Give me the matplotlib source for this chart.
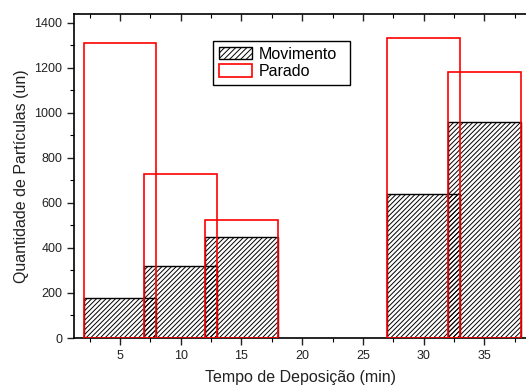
import matplotlib
matplotlib.use('Agg')
import matplotlib.pyplot as plt
from matplotlib.patches import Patch
from matplotlib.ticker import MultipleLocator

# data
tempo = [5, 10, 15, 30, 35]
movimento = [176, 318, 448, 639, 959]
parado = [1308, 730, 522, 1333, 1180]
largura = 6

plt.rcParams['font.family'] = ['Liberation Sans', 'DejaVu Sans']
plt.rcParams['hatch.linewidth'] = 0.7

fig = plt.figure(figsize=(5.26, 3.87), dpi=100)
ax = fig.add_axes([0.1407, 0.1266, 0.8593, 0.8372])

# hatched bars (movimento) without fill so overlaps show double hatch
ax.bar(tempo, movimento, width=largura, facecolor='none', edgecolor='black',
       hatch='///////', linewidth=1.0, zorder=2)
# red outline bars (parado)
ax.bar(tempo, parado, width=largura, facecolor='none', edgecolor='red',
       linewidth=1.2, zorder=3)

ax.set_xlim(1.21, 38.43)
ax.set_ylim(0, 1438)

ax.xaxis.set_major_locator(MultipleLocator(5))
ax.xaxis.set_minor_locator(MultipleLocator(2.5))
ax.yaxis.set_major_locator(MultipleLocator(200))
ax.yaxis.set_minor_locator(MultipleLocator(100))

ax.tick_params(axis='both', which='major', labelsize=9, length=5, width=1,
               colors='#222222')
ax.tick_params(axis='both', which='minor', length=3, width=0.8)
ax.tick_params(axis='x', which='both', top=True, direction='out')
ax.tick_params(axis='y', which='both', direction='out')
# top ticks point into the plot
for t in ax.xaxis.get_major_ticks() + ax.xaxis.get_minor_ticks():
    t.tick2line.set_marker(3)

ax.spines['right'].set_visible(False)
for s in ['left', 'bottom', 'top']:
    ax.spines[s].set_linewidth(1.2)

ax.set_xlabel('Tempo de Deposição (min)', fontsize=11.5, color='#222222', labelpad=6)
ax.set_ylabel('Quantidade de Partículas (un)', fontsize=11.5, color='#222222', labelpad=4)

handles = [Patch(facecolor='white', edgecolor='black', hatch='//////', linewidth=1.0),
           Patch(facecolor='white', edgecolor='red', linewidth=1.2)]
leg = ax.legend(handles, ['Movimento', 'Parado'], loc='upper left',
                bbox_to_anchor=(0.3075, 0.7867, 0.303, 0.13), mode='expand',
                borderaxespad=0, fontsize=11.5, fancybox=False, framealpha=1,
                edgecolor='black', handlelength=2.1, handleheight=0.8,
                handletextpad=0.4, labelspacing=0.15, borderpad=0.35)
leg.get_frame().set_linewidth(1.0)

fig.savefig('out.png', dpi=100)
